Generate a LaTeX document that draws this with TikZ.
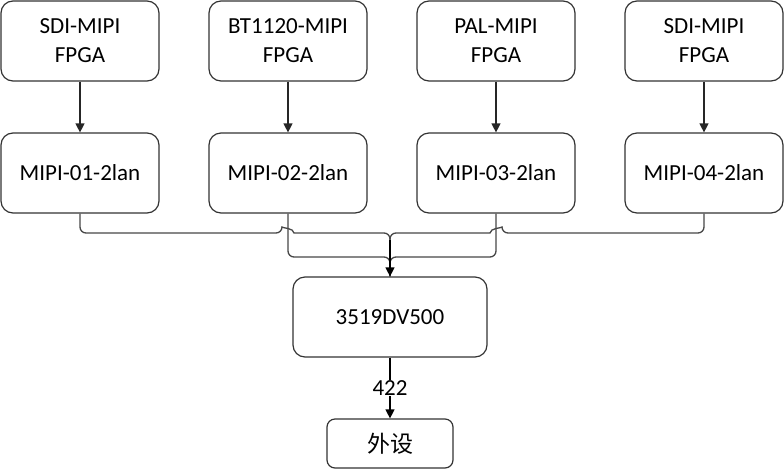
\documentclass[tikz,border=0pt]{standalone}
\usepackage{fontspec}
\setmainfont{Carlito}
\newfontfamily\cjk{Noto Sans CJK SC}
\usetikzlibrary{arrows.meta}
\begin{document}
\begin{tikzpicture}[x=1pt,y=-1pt,
  box/.style={draw=black!80, line width=1.2pt, rounded corners=12pt, minimum width=158pt, minimum height=80pt, align=center, font=\fontsize{23}{29}\selectfont, inner sep=0pt},
  conn/.style={draw=black!72, line width=1.3pt},
  tip/.style={-{Triangle[width=9pt,length=9pt]}}]
\useasboundingbox (0,0) rectangle (784,469);
% top boxes
\node[box] (f1) at (80,41) {SDI-MIPI\\FPGA};
\node[box] (f2) at (288,41) {BT1120-MIPI\\FPGA};
\node[box] (f3) at (496,41) {PAL-MIPI\\FPGA};
\node[box] (f4) at (704,41) {SDI-MIPI\\FPGA};
% mipi boxes
\node[box] (m1) at (80,173) {MIPI-01-2lan};
\node[box] (m2) at (288,173) {MIPI-02-2lan};
\node[box] (m3) at (496,173) {MIPI-03-2lan};
\node[box] (m4) at (704,173) {MIPI-04-2lan};
% processor
\node[box, minimum width=194pt] (d) at (390,317) {3519DV500};
\node[box, minimum width=126pt, minimum height=49pt, rounded corners=8pt] (p) at (390,443.5) {\cjk 外设};
% arrows
\foreach \i in {1,2,3,4} {\draw[draw=black!85, line width=1.2pt, tip] (f\i) -- (m\i);}
% merge connectors
\coordinate (j) at (390,233);
\draw[conn] (m2.south) [rounded corners=6pt] -- (288,257) -- (390,257) -- (d.north);
\draw[conn] (m3.south) [rounded corners=6pt] -- (496,257) -- (390,257) -- (d.north);
\draw[conn] (m1.south) [rounded corners=6pt] -- (80,233) -- (282,233) [sharp corners] .. controls (282,228) and (294,228) .. (294,233) [rounded corners=6pt] -- (j) -- (d.north);
\draw[conn] (m4.south) [rounded corners=6pt] -- (704,233) -- (502,233) [sharp corners] .. controls (502,228) and (490,228) .. (490,233) [rounded corners=6pt] -- (j) -- (d.north);
\draw[black, line width=1.2pt, tip] (390,240) -- (d.north);
% output
\draw[black, line width=1.2pt, tip] (d) -- node[fill=white, inner sep=1pt, font=\fontsize{23}{29}\selectfont] {422} (p);
\end{tikzpicture}
\end{document}
